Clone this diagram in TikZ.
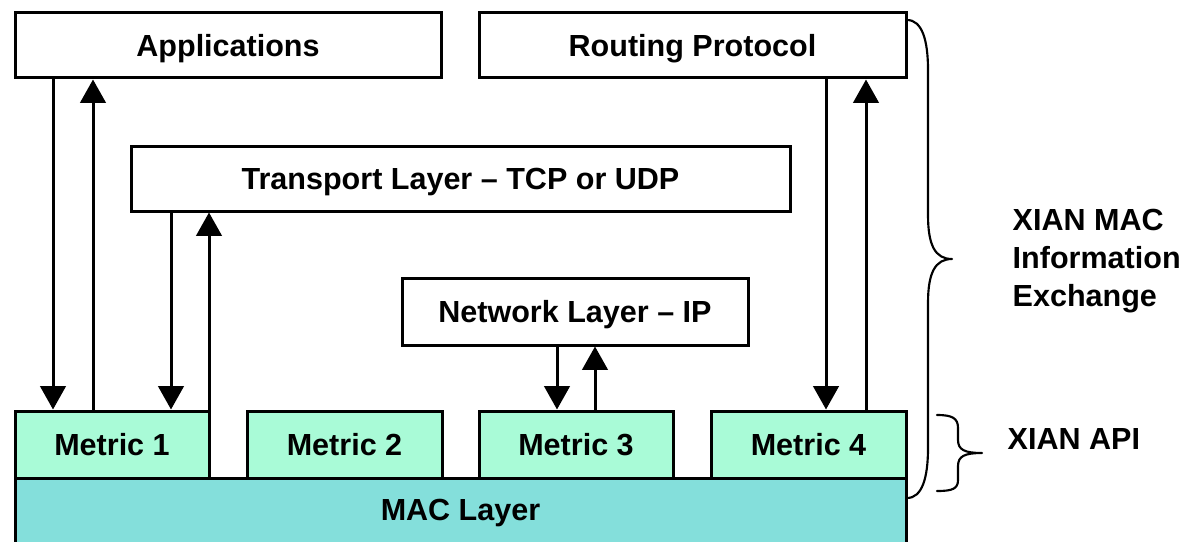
\documentclass[tikz,border=0pt]{standalone}
\usepackage{fontspec}
\setmainfont{Liberation Sans}
\usetikzlibrary{arrows.meta}
\definecolor{metricfill}{HTML}{A9FBD7}
\definecolor{macfill}{HTML}{84DFDB}
\tikzset{
  lbl/.style={font=\fontsize{22.9}{28.5}\selectfont\bfseries},
  box/.style={draw, line width=2.25pt, fill=white, inner sep=0pt, lbl, text height=16.4pt, text depth=0pt},
  metricbox/.style={box, fill=metricfill},
  arr/.style={line width=2.25pt, -{Triangle[length=17.5pt,width=19pt]}},
  bracepath/.style={line width=1.6pt, line cap=round, line join=round}
}
\begin{document}
\begin{tikzpicture}[x=0.75pt, y=-0.75pt]
\clip (0,0) rectangle (1191,542);
\useasboundingbox (0,0) rectangle (1191,542);

% MAC layer (extends beyond bottom edge)
\node[box, fill=macfill, minimum width=891*0.75pt, minimum height=82*0.75pt] (mac) at (460.5,519) {};
\node[lbl, text height=16.4pt, text depth=0pt, inner sep=0pt] (maclbl) at (460.5,510) {MAC Layer};

% top boxes
\node[box, minimum width=426*0.75pt, minimum height=65*0.75pt] (apps) at (228,45.5) {Applications};
\node[box, minimum width=427*0.75pt, minimum height=65*0.75pt] (routing) at (692.5,45.5) {Routing Protocol};
\node[box, minimum width=659*0.75pt, minimum height=65*0.75pt] (transport) at (460.5,178.5) {Transport Layer -- TCP or UDP};
\node[box, minimum width=346*0.75pt, minimum height=67*0.75pt] (network) at (575,311.5) {Network Layer -- IP};

% metric boxes
\node[metricbox, minimum width=194*0.75pt, minimum height=67*0.75pt] (m1) at (112,444.5) {Metric 1};
\node[metricbox, minimum width=195*0.75pt, minimum height=67*0.75pt] (m2) at (344.5,444.5) {Metric 2};
\node[metricbox, minimum width=194*0.75pt, minimum height=67*0.75pt] (m3) at (576,444.5) {Metric 3};
\node[metricbox, minimum width=195*0.75pt, minimum height=67*0.75pt] (m4) at (808.5,444.5) {Metric 4};

% x positions of arrows
\coordinate (xa) at (53,0);
\coordinate (xb) at (93,0);
\coordinate (xc) at (171,0);
\coordinate (xd) at (209,0);
\coordinate (xe) at (557,0);
\coordinate (xf) at (595,0);
\coordinate (xg) at (826,0);
\coordinate (xh) at (866,0);

\draw[arr] (apps.south -| xa) -- (m1.north -| xa);
\draw[arr] (m1.north -| xb) -- (apps.south -| xb);
\draw[arr] (transport.south -| xc) -- (m1.north -| xc);
\draw[arr] (m1.north -| xd) -- (transport.south -| xd);
\draw[arr] (network.south -| xe) -- (m3.north -| xe);
\draw[arr] (m3.north -| xf) -- (network.south -| xf);
\draw[arr] (routing.south -| xg) -- (m4.north -| xg);
\draw[arr] (m4.north -| xh) -- (routing.south -| xh);

% braces
\draw[bracepath] (907,20) .. controls (922,20) and (928,40) .. (928,70) -- (928,215)
  .. controls (928,245) and (935,259) .. (952,259)
  .. controls (935,259) and (928,273) .. (928,303) -- (928,448)
  .. controls (928,478) and (922,498) .. (907,498);
\draw[bracepath] (937,415) .. controls (952,415) and (958,418) .. (958,428) -- (958,440)
  .. controls (958,450) and (965,453) .. (982,453)
  .. controls (965,453) and (958,456) .. (958,466) -- (958,480)
  .. controls (958,489) and (952,491) .. (937,491);

\node[lbl, anchor=west, align=left] (infoex) at (1008,261) {XIAN MAC\\Information\\Exchange};
\node[lbl, anchor=west] (api) at (1003,439) {XIAN API};
\end{tikzpicture}
\end{document}
